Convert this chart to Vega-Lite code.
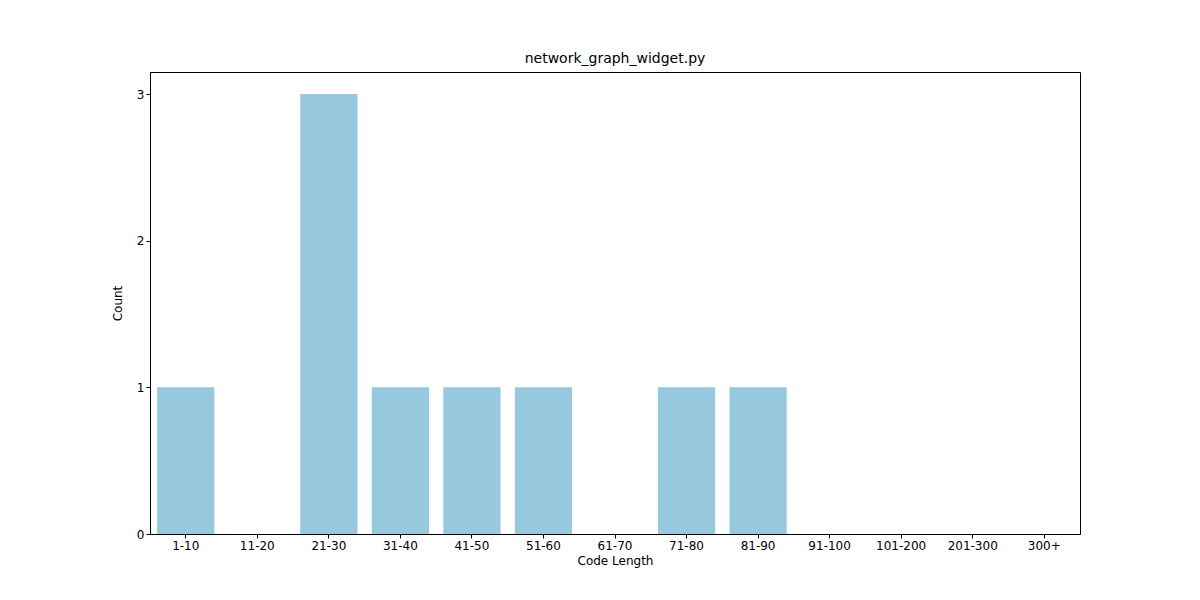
{
  "$schema": "https://vega.github.io/schema/vega-lite/v6.json",
  "autosize": "none",
  "padding": {"left": 150, "top": 72, "right": 120, "bottom": 66},
  "width": 930,
  "height": 462,
  "background": "white",
  "title": {"text": "network_graph_widget.py", "font": "DejaVu Sans", "fontSize": 14, "fontWeight": "normal", "offset": 6},
  "config": {
    "view": {"stroke": "black", "strokeWidth": 1},
    "axis": {"labelFont": "DejaVu Sans", "titleFont": "DejaVu Sans", "labelFontSize": 12, "titleFontSize": 12, "titleFontWeight": "normal", "labelColor": "black", "titleColor": "black", "tickColor": "black", "domainColor": "black", "grid": false, "tickSize": 4}
  },
  "data": {
    "values": [
      {"bin": "1-10", "count": 1},
      {"bin": "11-20", "count": 0},
      {"bin": "21-30", "count": 3},
      {"bin": "31-40", "count": 1},
      {"bin": "41-50", "count": 1},
      {"bin": "51-60", "count": 1},
      {"bin": "61-70", "count": 0},
      {"bin": "71-80", "count": 1},
      {"bin": "81-90", "count": 1},
      {"bin": "91-100", "count": 0},
      {"bin": "101-200", "count": 0},
      {"bin": "201-300", "count": 0},
      {"bin": "300+", "count": 0}
    ]
  },
  "mark": {"type": "bar", "color": "#96c9de"},
  "encoding": {
    "x": {
      "field": "bin", "type": "nominal", "sort": null,
      "scale": {"paddingInner": 0.2, "paddingOuter": 0.1},
      "axis": {"title": "Code Length", "labelAngle": 0, "titlePadding": 4}
    },
    "y": {
      "field": "count", "type": "quantitative",
      "scale": {"domain": [0, 3.15], "nice": false},
      "axis": {"title": "Count", "values": [0, 1, 2, 3], "titlePadding": 12}
    }
  }
}
